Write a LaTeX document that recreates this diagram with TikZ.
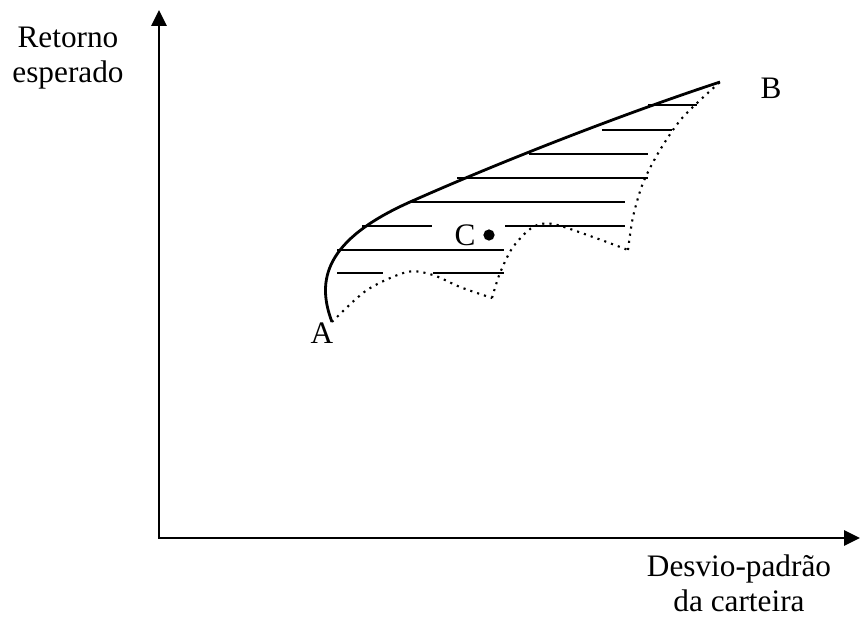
\documentclass[tikz,border=0pt]{standalone}
\usepackage{fontspec}
\setmainfont{Liberation Serif}
\usetikzlibrary{arrows.meta}

\begin{document}
\begin{tikzpicture}[x=0.02cm,y=-0.02cm,>={Triangle[length=9pt,width=8.5pt]},
    font=\fontsize{17.8}{19.8}\selectfont]
    \useasboundingbox (0,0) rectangle (860,619);
    % Eixos
    \coordinate (O) at (159,538);
    \coordinate (ytop) at (159,10);
    \coordinate (xend) at (860,538);
    \draw[<->,line width=1.6pt] (ytop) -- (O) -- (xend);
    % Pontos extremos e cuspides
    \coordinate (A) at (332,322);
    \coordinate (B) at (720,82);
    \coordinate (c1) at (492,298);
    \coordinate (c2) at (628,250);
    % Fronteira eficiente
    \draw[line width=1.6pt] (A) .. controls (316,280) and (325,240) .. (410,202)
        .. controls (500,162) and (620,115) .. (B);
    % Fronteira inferior (pontilhada)
    \begin{scope}[line width=1.2pt,dash pattern=on 1.2pt off 2.9pt]
        \draw plot[smooth] coordinates {(A) (367,290) (407,272) (433,275) (460,287) (c1)};
        \draw plot[smooth] coordinates {(c1) (500,273) (513,247) (533,227) (553,224) (593,237) (c2)};
        \draw plot[smooth] coordinates {(c2) (633,217) (643,183) (660,150) (683,117) (B)};
    \end{scope}
    % Hachuras
    \foreach \y/\xa/\xb in {105/648/697, 130/602/672, 154/529/648, 178/457/648,
        202/408/625, 226/362/432, 226/505/625, 250/337/504, 273/337/383, 273/433/504}
        \draw[line width=1.2pt] (\xa,\y) -- (\xb,\y);
    % Rotulos
    \node (labA) at (322,333) {A};
    \node (labB) at (771,88) {B};
    \node (labC) at (465,235) {C};
    \fill (489,235) circle[radius=3.2pt];
    \node[align=center] (ylab) at (68,58) {Retorno\\esperado};
    \node[align=center,inner sep=1pt] (xlab) at (739,583) {Desvio-padrão\\da carteira};
\end{tikzpicture}
\end{document}
